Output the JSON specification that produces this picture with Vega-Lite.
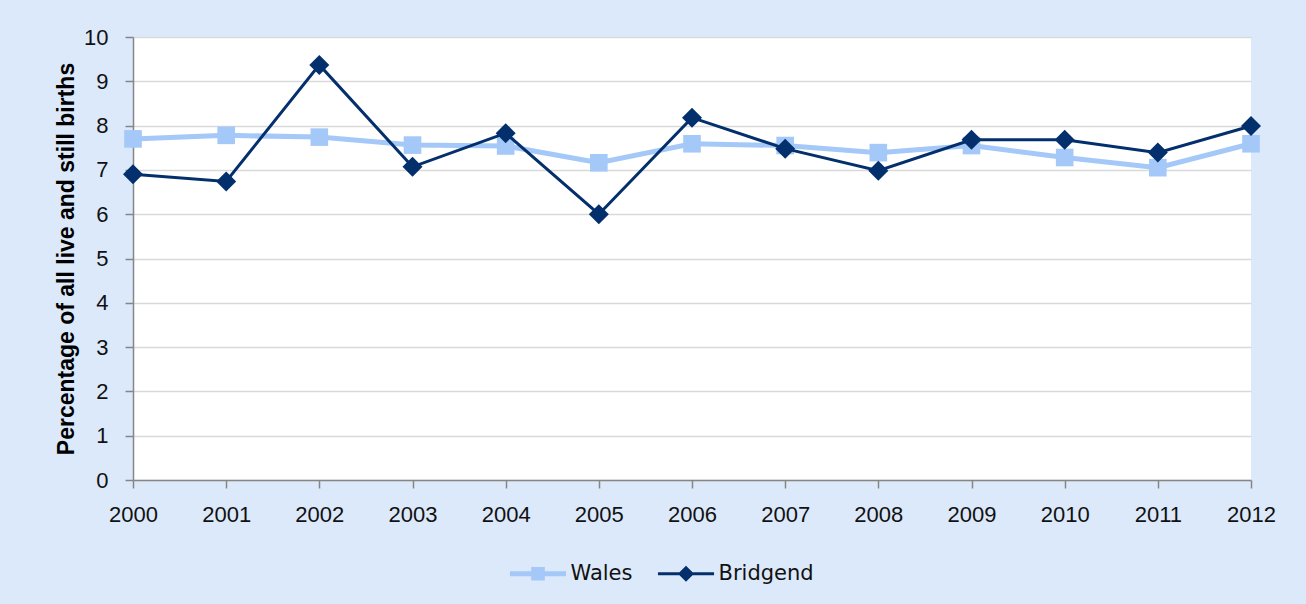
{
  "$schema": "https://vega.github.io/schema/vega-lite/v6.json",
  "autosize": "none",
  "width": 1118,
  "height": 443,
  "padding": {"left": 133, "top": 37, "right": 55, "bottom": 124},
  "background": "#dce9fb",
  "config": {
    "view": {"fill": "white", "stroke": null},
    "axis": {
      "labelFont": "Liberation Sans",
      "labelFontSize": 22,
      "labelColor": "#111111",
      "domainColor": "#868686",
      "domainWidth": 1.5,
      "tickColor": "#868686",
      "tickWidth": 1.5,
      "tickSize": 8,
      "gridColor": "#d9d9d9",
      "gridWidth": 1.3
    }
  },
  "data": {
    "values": [
      {"year": "2000", "series": "Wales", "value": 7.70},
      {"year": "2001", "series": "Wales", "value": 7.78},
      {"year": "2002", "series": "Wales", "value": 7.74},
      {"year": "2003", "series": "Wales", "value": 7.56},
      {"year": "2004", "series": "Wales", "value": 7.54},
      {"year": "2005", "series": "Wales", "value": 7.16},
      {"year": "2006", "series": "Wales", "value": 7.59},
      {"year": "2007", "series": "Wales", "value": 7.55},
      {"year": "2008", "series": "Wales", "value": 7.39},
      {"year": "2009", "series": "Wales", "value": 7.55},
      {"year": "2010", "series": "Wales", "value": 7.28},
      {"year": "2011", "series": "Wales", "value": 7.05},
      {"year": "2012", "series": "Wales", "value": 7.59},
      {"year": "2000", "series": "Bridgend", "value": 6.90},
      {"year": "2001", "series": "Bridgend", "value": 6.74},
      {"year": "2002", "series": "Bridgend", "value": 9.37},
      {"year": "2003", "series": "Bridgend", "value": 7.07},
      {"year": "2004", "series": "Bridgend", "value": 7.83},
      {"year": "2005", "series": "Bridgend", "value": 6.00},
      {"year": "2006", "series": "Bridgend", "value": 8.18},
      {"year": "2007", "series": "Bridgend", "value": 7.48},
      {"year": "2008", "series": "Bridgend", "value": 6.98},
      {"year": "2009", "series": "Bridgend", "value": 7.68},
      {"year": "2010", "series": "Bridgend", "value": 7.68},
      {"year": "2011", "series": "Bridgend", "value": 7.39},
      {"year": "2012", "series": "Bridgend", "value": 7.99}
    ]
  },
  "encoding": {
    "x": {
      "field": "year",
      "type": "ordinal",
      "scale": {"type": "point", "padding": 0},
      "axis": {"title": null, "labelAngle": 0, "labelPadding": 16, "grid": false}
    },
    "y": {
      "field": "value",
      "type": "quantitative",
      "scale": {"domain": [0, 10], "nice": false, "zero": true},
      "axis": {
        "title": "Percentage of all live and still births",
        "titleFont": "Liberation Sans",
        "titleFontSize": 23,
        "titleFontWeight": "bold",
        "titleColor": "black",
        "titlePadding": 5,
        "values": [0, 1, 2, 3, 4, 5, 6, 7, 8, 9, 10],
        "labelPadding": 17,
        "grid": true
      }
    },
    "color": {
      "field": "series",
      "type": "nominal",
      "scale": {"domain": ["Wales", "Bridgend"], "range": ["#a4c8f8", "#03306d"]},
      "legend": {
        "title": null,
        "orient": "none",
        "direction": "horizontal",
        "legendX": 394.5,
        "legendY": 526,
        "padding": 0,
        "symbolSize": 289,
        "symbolStrokeWidth": 0,
        "labelOffset": 22,
        "columnPadding": 25,
        "labelFont": "DejaVu Sans",
        "labelFontSize": 21,
        "labelColor": "#111111",
        "encode": {
          "symbols": {
            "update": {
              "shape": {"signal": "datum.value === 'Wales' ? 'M-3.3,-0.3H3.3V0.3H-3.3Z M-0.8,-0.8H0.8V0.8H-0.8Z' : 'M-3.3,-0.18H3.3V0.18H-3.3Z M0,-0.95L0.95,0L0,0.95L-0.95,0Z'"},
              "fill": {"signal": "datum.value === 'Wales' ? '#a4c8f8' : '#03306d'"},
              "strokeWidth": {"value": 0},
              "opacity": {"value": 1}
            }
          }
        }
      }
    }
  },
  "layer": [
    {
      "transform": [{"filter": "datum.series === 'Wales'"}],
      "mark": {
        "type": "line",
        "strokeWidth": 5,
        "point": {"shape": "square", "size": 310, "filled": true, "opacity": 1}
      }
    },
    {
      "transform": [{"filter": "datum.series === 'Bridgend'"}],
      "mark": {
        "type": "line",
        "strokeWidth": 3,
        "point": {"shape": "diamond", "size": 400, "filled": true, "opacity": 1}
      }
    }
  ]
}
